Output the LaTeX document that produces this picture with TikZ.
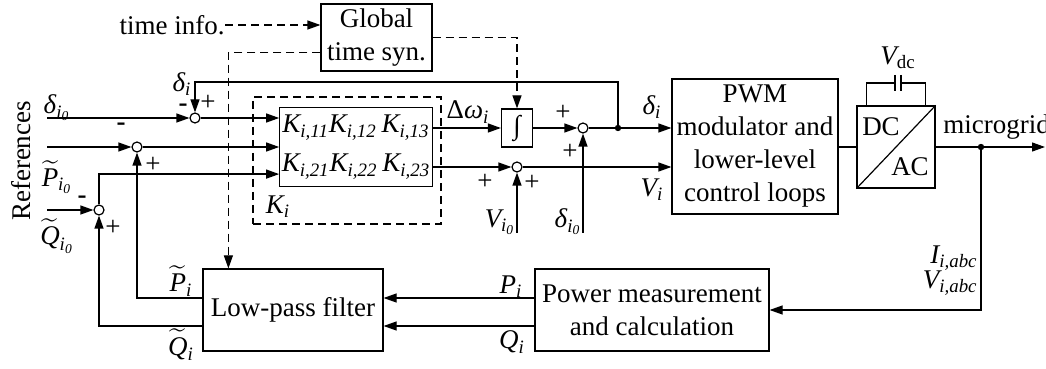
\documentclass[tikz,border=0pt]{standalone}
\usepackage{amsmath}
\usepackage{fontspec}
\setmainfont{Liberation Serif}
\usetikzlibrary{arrows.meta,calc,positioning}
\newcommand{\ti}[1]{\textit{#1}}
\tikzset{
  blockbox/.style={draw, line width=0.6pt, inner sep=1pt, align=center},
  sumnode/.style={draw, circle, line width=0.6pt, minimum size=5pt, inner sep=0pt},
  sig/.style={->, line width=0.6pt},
  dashsig/.style={sig, dash pattern=on 4pt off 2.5pt},
  sgn/.style={inner sep=0pt}
}
\begin{document}
\begin{tikzpicture}[x=0.5pt, y=-0.5pt, >={Triangle[length=6.5pt,width=4.5pt]},
  font=\fontsize{13.5}{16.5}\selectfont]
  \useasboundingbox (0,0) rectangle (1046,369);
  % blocks
  \node[blockbox, minimum width=55.5pt, minimum height=33.5pt] (gts) at (376.5,37.5) {Global\\time syn.};
  \node[draw, line width=0.6pt, dash pattern=on 4pt off 2.5pt, minimum width=94pt, minimum height=63.5pt] (kdash) at (347,160.5) {};
  \node[blockbox, minimum width=76pt, minimum height=39.5pt] (kbox) at (356,147)
    {$\ti{K}_{\ti{i,11}}\ti{K}_{\ti{i,12}}\,\ti{K}_{\ti{i,13}}$\\[3pt]$\ti{K}_{\ti{i,21}}\ti{K}_{\ti{i,22}}\,\ti{K}_{\ti{i,23}}$};
  \node[blockbox, minimum width=15.5pt, minimum height=19pt] (intg) at (517,128) {∫};
  \node[blockbox, minimum width=83pt, minimum height=67.5pt] (pwm) at (755,146.5) {PWM\\modulator and\\lower-level\\control loops};
  \node[blockbox, minimum width=39pt, minimum height=41pt] (dcac) at (896,147) {};
  \node[blockbox, minimum width=90pt, minimum height=41pt] (lpf) at (293,310) {Low-pass filter};
  \node[blockbox, minimum width=117pt, minimum height=41pt] (pwr) at (652,310) {Power measurement\\and calculation};
  \node[anchor=east, inner sep=0pt] (tinfo) at (225,25) {time info.};
  % summing junctions
  \node[sumnode] (s1) at (195,118) {};
  \node[sumnode] (s2) at (137,147) {};
  \node[sumnode] (s3) at (99,210) {};
  \node[sumnode] (s4) at (517,167) {};
  \node[sumnode] (s5) at (583,128) {};
  \node[sgn] (s1m) at ($(s1)+(-12,-10)$) {\textbf{-}};
  \node[sgn] (s1p) at ($(s1)+(13,-15)$) {+};
  \node[sgn] (s2m) at ($(s2)+(-16,-20)$) {\textbf{-}};
  \node[sgn] (s2p) at ($(s2)+(16,18)$) {+};
  \node[sgn] (s3m) at ($(s3)+(-17,-10)$) {\textbf{-}};
  \node[sgn] (s3p) at ($(s3)+(14,18)$) {+};
  \node[sgn] (s4a) at ($(s4)+(-32,15)$) {+};
  \node[sgn] (s4b) at ($(s4)+(15,16)$) {+};
  \node[sgn] (s5a) at ($(s5)+(-20,-15)$) {+};
  \node[sgn] (s5b) at ($(s5)+(-13,24)$) {+};
  % free ends
  \coordinate (din) at (47,118);
  \coordinate (pin) at (47,147);
  \coordinate (qin) at (47,210);
  \coordinate (vref) at (517,233);
  \coordinate (dref) at (583,233);
  \coordinate (dj) at (618,128);
  \coordinate (odot) at (981,147);
  \coordinate (mgout) at (1045,147);
  % signal lines
  \draw[sig] (din) -- (s1);
  \draw[sig] (pin) -- (s2);
  \draw[sig] (qin) -- (s3);
  \draw[sig] (s1) -- (s1 -| kbox.west);
  \draw[sig] (s2) -- (s2 -| kbox.west);
  \draw[sig] (s3) |- ($(kbox.south west)+(0,-13)$);
  \draw[sig] (kbox.east |- intg) -- (intg);
  \draw[sig] (kbox.east |- s4) -- (s4);
  \draw[sig] (intg) -- (s5);
  \draw[sig] (s5) -- (s5 -| pwm.west);
  \draw[sig] (s4) -- (s4 -| pwm.west);
  \fill (dj) circle (1.6pt);
  \draw[sig] (dj) -- ++(0,-46) -| (s1);
  \draw[sig] (vref) -- (s4);
  \draw[sig] (dref) -- (s5);
  \draw[dashsig] (tinfo.east) -- (tinfo.east -| gts.west);
  \draw[dashsig] (gts.east) -| (intg);
  \draw[dashsig] ($(gts.south west)+(0,-19)$) -| ($(lpf.north west)+(26,0)$);
  \draw[line width=0.6pt] (pwm.east |- dcac) -- (dcac);
  \draw[sig] (dcac) -- (mgout);
  \fill (odot) circle (1.6pt);
  \draw[sig] (odot) |- (pwr);
  \draw[sig] ($(pwr.west)+(0,-12)$) -- ($(lpf.east)+(0,-12)$);
  \draw[sig] ($(pwr.west)+(0,16)$) -- ($(lpf.east)+(0,16)$);
  \draw[sig] ($(lpf.west)+(0,-12)$) -| (s2);
  \draw[sig] ($(lpf.west)+(0,16)$) -| (s3);
  % converter
  \draw[line width=0.6pt] (dcac.south west) -- (dcac.north east);
  \draw[line width=0.6pt] ($(dcac.north west)+(10,0)$) |- (895,83) (901,83) -| ($(dcac.north east)+(-10,0)$);
  \draw[line width=0.6pt] (895,75) -- (895,91) (901,75) -- (901,91);
  \node (dclbl) at (881,127) {DC};
  \node (aclbl) at (910,167) {AC};
  % labels
  \node[rotate=90] (refs) at (21,161) {References};
  \node (ldi) at (182,84) {$\ti{δ}_{\ti{i}}$};
  \node (ldi0) at (57,108) {$\ti{δ}_{\ti{i}_{\ti{0}}}$};
  \node (lpi0) at (57,177) {$\widetilde{\ti{P}}_{\ti{i}_{\ti{0}}}$};
  \node (lqi0) at (57,236) {$\widetilde{\ti{Q}}_{\ti{i}_{\ti{0}}}$};
  \node (lpt) at (181,281) {$\widetilde{\ti{P}}_{\ti{i}}$};
  \node (lqt) at (181,345) {$\widetilde{\ti{Q}}_{\ti{i}}$};
  \node (lp) at (511,287) {$\ti{P}_{\ti{i}}$};
  \node (lq) at (512,342) {$\ti{Q}_{\ti{i}}$};
  \node (lki) at (278,207) {$\ti{K}_{\ti{i}}$};
  \node (ldw) at (468,112) {Δ$\ti{ω}_{\ti{i}}$};
  \node (ldo) at (652,107) {$\ti{δ}_{\ti{i}}$};
  \node (lvo) at (652,190) {$\ti{V}_{\ti{i}}$};
  \node (lvi0) at (500,222) {$\ti{V}_{\ti{i}_{\ti{0}}}$};
  \node (ldr0) at (568,222) {$\ti{δ}_{\ti{i}_{\ti{0}}}$};
  \node (lvdc) at (898,58) {$\ti{V}_{\text{dc}}$};
  \node[anchor=west, inner sep=0pt] (lmg) at (943,127) {microgrid};
  \node[anchor=east, inner sep=0pt] (liabc) at (978,258) {$\ti{I}_{\ti{i,abc}}$};
  \node[anchor=east, inner sep=0pt] (lvabc) at (978,283) {$\ti{V}_{\ti{i,abc}}$};
\end{tikzpicture}
\end{document}
